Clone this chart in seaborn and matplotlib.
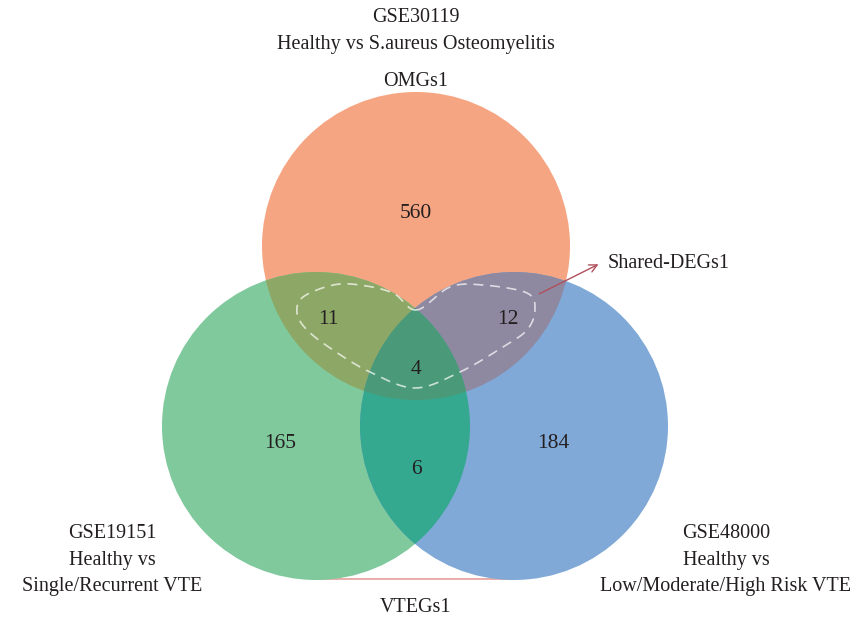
import numpy as np
import matplotlib
matplotlib.use("Agg")
import matplotlib.pyplot as plt
from matplotlib.patches import Circle, Polygon
import seaborn as sns

# sets and counts
set_names = ["OMGs1", "VTEGs1"]
only_counts = [560, 165, 184]       # top, left, right
pair_counts = [11, 12, 6]           # top&left, top&right, left&right
triple_count = 4
top_title = ["GSE30119", "Healthy vs S.aureus Osteomyelitis"]
left_title = ["GSE19151", "Healthy vs", "Single/Recurrent VTE"]
right_title = ["GSE48000", "Healthy vs", "Low/Moderate/High Risk VTE"]
shared_label = "Shared-DEGs1"

sns.set_theme(style="white")
plt.rcParams["font.family"] = ["Liberation Serif", "DejaVu Serif"]

base_colors = ["#F5A582", "#80C99C", "#80A9D7"]
pair_colors = ["#8DA866", "#8E88A0", "#35A890"]
triple_color = "#4A9A7A"
text_color = "#231F20"

fig = plt.figure(figsize=(8.57, 6.2), dpi=100)
ax = fig.add_axes([0, 0, 1, 1])
ax.set_xlim(0, 857)
ax.set_ylim(620, 0)
ax.axis("off")

R = 154
centers = [(416, 246), (316, 426), (514, 426)]

circles = []
for (cx, cy), col in zip(centers, base_colors):
    c = Circle((cx, cy), R, facecolor=col, edgecolor="none", zorder=1)
    ax.add_patch(c)
    circles.append(c)

# pairwise overlaps: draw circle j clipped by circle i
pairs = [(0, 1), (0, 2), (1, 2)]
for (i, j), col in zip(pairs, pair_colors):
    p = Circle(centers[j], R, facecolor=col, edgecolor="none", zorder=2)
    ax.add_patch(p)
    p.set_clip_path(circles[i])

# triple overlap polygon
pts = []
t = np.linspace(0, 2 * np.pi, 2000)
for k, (cx, cy) in enumerate(centers):
    xs = cx + R * np.cos(t)
    ys = cy + R * np.sin(t)
    mask = np.ones_like(xs, dtype=bool)
    for m, (ox, oy) in enumerate(centers):
        if m != k:
            mask &= (xs - ox) ** 2 + (ys - oy) ** 2 <= R ** 2 + 1e-6
    pts.append(np.column_stack([xs[mask], ys[mask]]))
pts = np.vstack(pts)
cen = pts.mean(axis=0)
order = np.argsort(np.arctan2(pts[:, 1] - cen[1], pts[:, 0] - cen[0]))
ax.add_patch(Polygon(pts[order], closed=True, facecolor=triple_color,
                     edgecolor="none", zorder=3))

# dashed outline around shared genes
heart = np.array([
    (416.7, 310), (393, 293), (360, 285), (333, 285), (303, 297), (297, 313),
    (307, 330), (333, 350), (370, 372), (415, 388), (460, 372), (503, 347),
    (527, 330), (535, 310), (527, 293), (483, 285), (450, 287),
])


def catmull(p, n=12):
    out = []
    L = len(p)
    for i in range(L):
        p0, p1, p2, p3 = p[i - 1], p[i], p[(i + 1) % L], p[(i + 2) % L]
        for s in np.linspace(0, 1, n, endpoint=False):
            out.append(0.5 * ((2 * p1) + (-p0 + p2) * s
                              + (2 * p0 - 5 * p1 + 4 * p2 - p3) * s ** 2
                              + (-p0 + 3 * p1 - 3 * p2 + p3) * s ** 3))
    out.append(out[0])
    return np.array(out)


hs = catmull(heart)
ax.plot(hs[:, 0], hs[:, 1], color="white", alpha=0.7, lw=1.2,
        ls=(0, (6, 4)), zorder=4)

# region counts
fs = 14.5
cfs = 15.5
count_pos = {
    "only": [(416, 214), (280, 443), (553, 443)],
    "pair": [(328, 320), (508, 320), (416, 469)],
    "triple": (416, 369),
}
for (x, y), v in zip(count_pos["only"], only_counts):
    ax.text(x, y, str(v), ha="center", va="center", fontsize=cfs, color=text_color, zorder=5)
for (x, y), v in zip(count_pos["pair"], pair_counts):
    ax.text(x, y, str(v), ha="center", va="center", fontsize=cfs, color=text_color, zorder=5)
ax.text(*count_pos["triple"], str(triple_count), ha="center", va="center",
        fontsize=cfs, color=text_color, zorder=5)

# titles
for y, s in zip([18, 45], top_title):
    ax.text(416, y, s, ha="center", va="center", fontsize=fs, color=text_color)
ax.text(416, 81, set_names[0], ha="center", va="center", fontsize=fs, color=text_color)
for y, s in zip([533, 560, 586], left_title):
    ax.text(112, y, s, ha="center", va="center", fontsize=fs, color=text_color)
for y, s in zip([533, 560, 586], right_title):
    ax.text(726, y, s, ha="center", va="center", fontsize=fs, color=text_color)

# shared DEGs arrow
ax.annotate("", xy=(601, 263), xytext=(537, 295),
            arrowprops=dict(arrowstyle="->", color="#B0505A", lw=1.0,
                            mutation_scale=14), zorder=6)
ax.text(608, 264, shared_label, ha="left", va="center", fontsize=fs, color=text_color)

# VTEGs bracket
ax.plot([316, 514], [579, 579], color="#E5A099", lw=1.2, zorder=0)
ax.text(416, 607, set_names[1], ha="center", va="center", fontsize=fs, color=text_color)

fig.savefig("out.png", dpi=100)
